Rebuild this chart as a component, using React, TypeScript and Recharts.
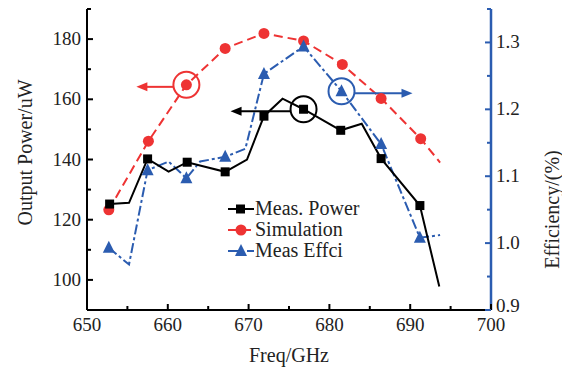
import { LineChart, Line, XAxis, YAxis, Legend, ReferenceDot } from 'recharts';

const FONT = '"Liberation Serif", "Times New Roman", serif';
const RED = '#ee3333';
const BLUE = '#2b5cb0';

// Meas. Power (black, left axis)
const powerFreq = [652.8, 655.2, 657.5, 660.1, 662.4, 667.1, 669.8, 671.9, 674.2, 676.8, 681.4, 684.0, 686.4, 691.2, 693.6];
const power = [125.2, 125.6, 140.2, 136.0, 139.1, 135.9, 140.0, 154.4, 160.2, 156.7, 149.7, 151.9, 140.3, 124.7, 97.8];
const powerMarks = [1, 0, 1, 0, 1, 1, 0, 1, 0, 1, 1, 0, 1, 1, 0];

// Simulation (red, left axis)
const simFreq = [652.7, 657.6, 662.3, 667.1, 671.9, 676.8, 681.6, 686.4, 691.3, 693.7];
const sim = [123.3, 146.1, 164.8, 176.9, 181.9, 179.4, 171.6, 160.3, 146.9, 139.0];
const simMarks = [1, 1, 1, 1, 1, 1, 1, 1, 1, 0];

// Meas Effci (blue, right axis)
const effFreq = [652.7, 655.2, 657.5, 660.1, 662.3, 664.0, 667.1, 669.6, 671.9, 676.8, 681.5, 686.4, 691.2, 693.7];
const eff = [0.993, 0.968, 1.109, 1.122, 1.097, 1.122, 1.129, 1.141, 1.253, 1.294, 1.227, 1.148, 1.008, 1.012];
const effMarks = [1, 0, 1, 0, 1, 0, 1, 0, 1, 1, 1, 1, 1, 0];

const xTicks = [650, 655, 660, 665, 670, 675, 680, 685, 690, 695, 700];
const leftTicks = [90, 100, 110, 120, 130, 140, 150, 160, 170, 180, 190];
const leftLabels = [100, 120, 140, 160, 180];
const rightTicks = [0.9, 0.95, 1.0, 1.05, 1.1, 1.15, 1.2, 1.25, 1.3, 1.35];
const rightLabels = [0.9, 1.0, 1.1, 1.2, 1.3];

const toRows = (xs: number[], ys: number[]) => xs.map((x, i) => ({ x, y: ys[i] }));
const powerData = toRows(powerFreq, power);
const simData = toRows(simFreq, sim);
const effData = toRows(effFreq, eff);

const isLabel = (v: number, list: number[]) => list.some((l) => Math.abs(l - v) < 1e-6);

const BottomTick = (props: any) => {
  const { x, y, payload } = props;
  const v = payload.value;
  const major = v % 10 === 0;
  return (
    <g>
      <line x1={x} x2={x} y1={y} y2={y - (major ? 6 : 4)} stroke="#000" strokeWidth={2} />
      {major && (
        <text x={x} y={y + 21} textAnchor="middle" fontFamily={FONT} fontSize={19} fill="#222">
          {v}
        </text>
      )}
    </g>
  );
};

const TopTick = (props: any) => {
  const { x, y, payload } = props;
  const major = payload.value % 10 === 0;
  return <line x1={x} x2={x} y1={y} y2={y + (major ? 6 : 4)} stroke="#000" strokeWidth={2} />;
};

const LeftTick = (props: any) => {
  const { x, y, payload } = props;
  const v = payload.value;
  const major = v % 20 === 0;
  return (
    <g>
      <line x1={x} x2={x + (major ? 6 : 4)} y1={y} y2={y} stroke="#000" strokeWidth={2} />
      {isLabel(v, leftLabels) && (
        <text x={x - 6} y={y + 6} textAnchor="end" fontFamily={FONT} fontSize={19} fill="#222">
          {v}
        </text>
      )}
    </g>
  );
};

const RightTick = (props: any) => {
  const { x, y, payload } = props;
  const v = payload.value;
  const major = isLabel(v, rightLabels);
  return (
    <g>
      <line x1={x} x2={x - (major ? 6 : 4)} y1={y} y2={y} stroke={BLUE} strokeWidth={2} />
      {major && (
        <text x={x + 5} y={y + (v < 0.95 ? 2 : 6)} textAnchor="start" fontFamily={FONT} fontSize={19} fill="#222">
          {v.toFixed(1)}
        </text>
      )}
    </g>
  );
};

const squareDot = (marks: number[]) => (p: any) =>
  marks[p.index] ? (
    <rect key={`s${p.index}`} x={p.cx - 4.5} y={p.cy - 4.5} width={9} height={9} fill="#000" />
  ) : (
    <g key={`s${p.index}`} />
  );

const circleDot = (marks: number[]) => (p: any) =>
  marks[p.index] ? <circle key={`c${p.index}`} cx={p.cx} cy={p.cy} r={5.5} fill={RED} /> : <g key={`c${p.index}`} />;

const triDot = (marks: number[]) => (p: any) =>
  marks[p.index] ? (
    <polygon
      key={`t${p.index}`}
      points={`${p.cx},${p.cy - 7} ${p.cx - 6},${p.cy + 5} ${p.cx + 6},${p.cy + 5}`}
      fill={BLUE}
    />
  ) : (
    <g key={`t${p.index}`} />
  );

const marker = (dir: number, len: number, color: string) => (p: any) => {
  const { cx, cy } = p;
  const r = 13;
  const start = cx + dir * r;
  const tip = start + dir * len;
  return (
    <g>
      <circle cx={cx} cy={cy} r={r} fill="none" stroke={color} strokeWidth={2} />
      <line x1={start} x2={tip - dir * 8} y1={cy + 2} y2={cy + 2} stroke={color} strokeWidth={2} />
      <polygon points={`${tip},${cy + 2} ${tip - dir * 11},${cy - 2.5} ${tip - dir * 11},${cy + 6.5}`} fill={color} />
    </g>
  );
};

const LegendBox = () => {
  const rows = [
    { name: 'Meas. Power', color: '#000', dash: undefined, kind: 'sq' },
    { name: 'Simulation', color: RED, dash: '9 5', kind: 'ci' },
    { name: 'Meas Effci', color: BLUE, dash: '10 3 3 3', kind: 'tr' },
  ];
  return (
    <svg width={150} height={66}>
      {rows.map((r, i) => {
        const y = 11 + i * 21;
        return (
          <g key={r.name}>
            <line x1={2} x2={28} y1={y} y2={y} stroke={r.color} strokeWidth={2} strokeDasharray={r.dash} />
            {r.kind === 'sq' && <rect x={10} y={y - 4.5} width={9} height={9} fill="#000" />}
            {r.kind === 'ci' && <circle cx={15} cy={y} r={5.5} fill={RED} />}
            {r.kind === 'tr' && <polygon points={`15,${y - 7} 9,${y + 5} 21,${y + 5}`} fill={BLUE} />}
            <text x={29} y={y + 6} fontFamily={FONT} fontSize={20} fill="#222">
              {r.name}
            </text>
          </g>
        );
      })}
    </svg>
  );
};

const leftTitle = (p: any) => {
  const { x, y, height } = p.viewBox;
  const cx = x + 25;
  const cy = y + height / 2 - 7;
  return (
    <text x={cx} y={cy} transform={`rotate(-90 ${cx} ${cy})`} textAnchor="middle" dominantBaseline="central" fontFamily={FONT} fontSize={20} fill="#222">
      Output Power/uW
    </text>
  );
};

const rightTitle = (p: any) => {
  const { x, y, height } = p.viewBox;
  const cx = x + 61;
  const cy = y + height / 2 + 50;
  return (
    <text x={cx} y={cy} transform={`rotate(-90 ${cx} ${cy})`} textAnchor="middle" dominantBaseline="central" fontFamily={FONT} fontSize={20} fill="#222">
      Efficiency/(%)
    </text>
  );
};

const bottomTitle = (p: any) => {
  const { x, y, width } = p.viewBox;
  return (
    <text x={x + width / 2} y={y + 52} textAnchor="middle" fontFamily={FONT} fontSize={20} fill="#222">
      Freq/GHz
    </text>
  );
};

export default function App() {
  return (
    <div style={{ position: 'absolute', left: 0, top: 0, background: '#fff' }}>
      <LineChart width={562} height={369} margin={{ top: 9, right: 0, bottom: 0, left: 0 }}>
        <XAxis
          xAxisId="top"
          orientation="top"
          type="number"
          dataKey="x"
          domain={[650, 700]}
          ticks={xTicks}
          height={0}
          tickSize={0}
          tickMargin={0}
          tick={<TopTick />}
          axisLine={{ stroke: '#000', strokeWidth: 2 }}
        />
        <XAxis
          type="number"
          dataKey="x"
          domain={[650, 700]}
          ticks={xTicks}
          height={59}
          tickSize={0}
          tickMargin={0}
          tick={<BottomTick />}
          axisLine={{ stroke: '#000', strokeWidth: 2 }}
          label={{ content: bottomTitle }}
        />
        <YAxis
          yAxisId="left"
          type="number"
          domain={[90, 190]}
          ticks={leftTicks}
          width={87}
          tickSize={0}
          tickMargin={0}
          tick={<LeftTick />}
          axisLine={{ stroke: '#000', strokeWidth: 2 }}
          label={{ content: leftTitle }}
        />
        <YAxis
          yAxisId="right"
          orientation="right"
          type="number"
          domain={[0.9, 1.35]}
          ticks={rightTicks}
          width={71}
          tickSize={0}
          tickMargin={0}
          tick={<RightTick />}
          axisLine={{ stroke: BLUE, strokeWidth: 2.5 }}
          label={{ content: rightTitle }}
        />
        <Line
          yAxisId="left"
          data={simData}
          dataKey="y"
          name="Simulation"
          stroke={RED}
          strokeWidth={2}
          strokeDasharray="9 5"
          dot={circleDot(simMarks)}
          isAnimationActive={false}
        />
        <Line
          yAxisId="right"
          data={effData}
          dataKey="y"
          name="Meas Effci"
          stroke={BLUE}
          strokeWidth={2}
          strokeDasharray="10 3 3 3"
          dot={triDot(effMarks)}
          isAnimationActive={false}
        />
        <Line
          yAxisId="left"
          data={powerData}
          dataKey="y"
          name="Meas. Power"
          stroke="#000"
          strokeWidth={2}
          dot={squareDot(powerMarks)}
          isAnimationActive={false}
        />
        <ReferenceDot yAxisId="left" x={simFreq[2]} y={sim[2]} ifOverflow="visible" shape={marker(-1, 37, RED)} />
        <ReferenceDot yAxisId="left" x={powerFreq[9]} y={power[9]} ifOverflow="visible" shape={marker(-1, 60, '#000')} />
        <ReferenceDot yAxisId="right" x={effFreq[10]} y={eff[10]} ifOverflow="visible" shape={marker(1, 58, BLUE)} />
        <Legend
          layout="vertical"
          align="center"
          verticalAlign="middle"
          content={<LegendBox />}
          wrapperStyle={{ left: 226, top: 198, width: 150 }}
        />
      </LineChart>
    </div>
  );
}
